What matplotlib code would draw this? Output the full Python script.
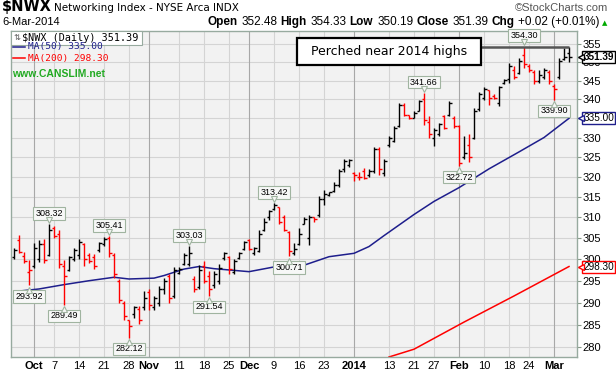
import numpy as np
import pandas as pd
import matplotlib
matplotlib.use('Agg')
import matplotlib.pyplot as plt
from matplotlib.ticker import FixedLocator, NullLocator, FuncFormatter
from matplotlib.transforms import offset_copy
from matplotlib.patches import Rectangle
from matplotlib.lines import Line2D

W, H = 616, 372

###########################
# Data
###########################

holidays = ['2013-11-28', '2013-12-25', '2014-01-01', '2014-01-20', '2014-02-17']
dates = pd.bdate_range('2013-09-25', '2014-03-06')
dates = dates[~dates.isin(pd.to_datetime(holidays))]

# daily OHLC, Sep 25 2013 .. Mar 6 2014 (one block per month)
opens = [
    300.5, 304.5, 300.8, 297.0,                                   # Sep
    298.5, 300.0, 303.5, 301.0, 307.5, 306.0, 298.5, 297.5, 300.0, 301.0, 303.5, 301.0,
    300.5, 302.2, 303.5, 305.0, 301.0, 295.0, 290.0, 286.0, 287.5, 288.5, 289.0,  # Oct
    292.5, 289.0, 290.0, 293.0, 296.0, 291.5, 296.8, 299.0, 299.0, 295.5, 293.5, 298.5,
    296.0, 294.0, 295.0, 300.2, 300.5, 297.0, 300.3, 302.5,       # Nov
    304.5, 301.5, 302.0, 307.0, 310.0, 312.0, 312.5, 310.0, 306.5, 301.5, 303.5, 308.5,
    305.0, 310.0, 310.5, 314.5, 315.5, 316.5, 318.0, 322.0, 323.0,  # Dec
    321.0, 320.0, 321.5, 320.5, 321.5, 327.0, 321.0, 328.0, 329.0, 333.0, 338.5, 335.8,
    335.2, 337.0, 340.0, 334.0, 330.0, 331.0, 335.5, 336.0, 335.0,  # Jan
    333.0, 325.0, 328.0, 330.0, 337.5, 340.5, 342.5, 341.0, 339.0, 344.3, 345.5, 348.0,
    347.0, 352.0, 349.0, 347.5, 345.0, 346.0, 347.5,              # Feb
    343.5, 346.0, 351.0, 352.48,                                  # Mar
]
highs = [
    302.6, 305.8, 301.8, 299.9,
    303.9, 304.5, 304.7, 308.32, 308.0, 307.0, 299.8, 300.8, 302.6, 304.7, 303.9, 301.4,
    301.3, 304.2, 305.3, 305.41, 301.5, 295.5, 290.4, 286.1, 289.3, 289.3, 292.6,
    293.0, 291.5, 293.8, 295.7, 296.5, 298.1, 298.3, 301.4, 303.03, 296.0, 298.6, 299.5,
    297.2, 297.2, 298.8, 301.8, 300.7, 300.0, 301.8, 304.4,
    304.9, 302.9, 307.0, 309.8, 311.8, 313.42, 312.6, 310.6, 306.7, 303.9, 307.4, 310.2,
    310.6, 310.2, 315.3, 316.6, 316.3, 318.6, 322.0, 324.5, 324.5,
    321.3, 321.3, 322.2, 322.0, 327.5, 327.6, 324.5, 330.4, 332.9, 339.0, 339.0, 336.0,
    336.8, 339.9, 341.66, 335.5, 332.5, 333.8, 336.0, 339.5, 335.5,
    333.3, 330.4, 330.8, 337.7, 342.1, 343.4, 342.6, 341.5, 343.7, 345.5, 349.8, 348.9,
    351.2, 354.30, 349.5, 348.0, 348.0, 348.4, 348.0,
    344.1, 351.2, 354.0, 354.33,
]
lows = [
    300.0, 301.4, 299.1, 293.92,
    298.0, 299.4, 299.1, 300.7, 305.0, 298.0, 289.49, 297.3, 299.6, 300.0, 298.4, 299.1,
    297.8, 301.8, 303.2, 300.6, 295.7, 290.0, 286.0, 282.12, 286.6, 285.2, 288.4,
    288.4, 288.4, 289.2, 291.9, 290.0, 291.1, 296.5, 298.7, 298.4, 292.3, 293.0, 294.5,
    291.54, 293.4, 294.3, 299.9, 296.5, 296.5, 300.0, 302.2,
    302.2, 301.1, 301.6, 306.7, 309.4, 311.8, 308.3, 306.7, 300.71, 301.1, 303.4, 308.3,
    303.4, 309.0, 310.2, 313.0, 315.3, 316.1, 317.4, 321.2, 322.4,
    318.9, 319.3, 319.5, 320.0, 321.0, 320.5, 320.3, 327.5, 328.8, 332.8, 335.5, 334.7,
    335.0, 336.8, 333.3, 330.0, 327.9, 330.4, 332.1, 335.5, 332.5,
    322.72, 324.5, 323.8, 329.5, 336.8, 339.9, 338.6, 340.2, 338.3, 344.1, 344.4, 345.5,
    346.8, 348.4, 347.5, 344.1, 344.4, 345.6, 344.1,
    339.90, 345.6, 350.7, 350.19,
]
closes = [
    302.3, 301.8, 299.6, 297.5,
    302.6, 303.5, 299.8, 307.0, 305.5, 299.0, 296.0, 300.5, 302.3, 304.0, 300.0, 299.5,
    298.5, 303.8, 304.8, 301.5, 296.5, 290.5, 287.0, 284.8, 289.0, 286.0, 291.0,
    289.5, 291.0, 293.0, 295.0, 291.0, 297.5, 297.8, 301.0, 301.5, 293.0, 297.5, 295.0,
    293.0, 296.5, 298.0, 301.5, 297.8, 299.5, 301.5, 304.0,
    302.4, 302.7, 306.0, 309.0, 311.5, 313.0, 309.0, 307.0, 302.0, 302.5, 306.0, 309.5,
    310.0, 309.5, 314.5, 315.8, 316.1, 318.0, 321.5, 324.0, 324.3,
    320.5, 320.0, 319.8, 321.5, 327.0, 322.0, 324.0, 330.0, 332.5, 338.5, 336.0, 335.0,
    336.5, 339.5, 334.5, 331.0, 332.0, 333.5, 332.5, 339.0, 333.0,
    323.5, 326.0, 325.0, 337.0, 341.5, 342.8, 340.5, 340.4, 343.3, 345.2, 349.0, 346.0,
    350.5, 349.5, 348.0, 345.0, 346.5, 348.0, 345.0,
    342.8, 350.5, 351.37, 351.39,
]

# moving averages
ma50_dates = ['2013-09-25', '2013-10-02', '2013-10-09', '2013-10-16', '2013-10-23',
              '2013-10-28', '2013-11-04', '2013-11-06', '2013-11-12', '2013-11-15',
              '2013-11-20', '2013-11-25', '2013-12-02', '2013-12-09', '2013-12-17',
              '2013-12-24', '2014-01-02', '2014-01-07', '2014-01-10', '2014-01-21',
              '2014-01-27', '2014-02-03', '2014-02-11', '2014-02-20', '2014-02-27',
              '2014-03-06']
ma50_vals = [292.5, 293.1, 294.1, 295.0, 295.8, 295.4, 295.6, 296.2, 297.7, 298.3,
             297.8, 297.5, 297.1, 298.2, 298.6, 300.6, 301.4, 303.0, 305.6, 310.7,
             313.9, 317.3, 322.0, 326.3, 330.0, 335.0]
ma200_dates = ['2014-01-13', '2014-01-21', '2014-02-04', '2014-02-19', '2014-03-06']
ma200_vals = [277.9, 279.6, 285.6, 291.5, 298.3]

# labelled highs / lows
mark_dates = ['2013-09-30', '2013-10-04', '2013-10-09', '2013-10-22', '2013-10-28',
              '2013-11-13', '2013-11-19', '2013-12-09', '2013-12-12', '2014-01-23',
              '2014-02-03', '2014-02-21', '2014-03-03']
mark_vals = [293.92, 308.32, 289.49, 305.41, 282.12, 303.03, 291.54, 313.42, 300.71,
             341.66, 322.72, 354.30, 339.90]
mark_kind = ['low', 'high', 'low', 'high', 'low', 'high', 'low', 'high', 'low',
             'high', 'low', 'high', 'low']

tick_dates = ['2013-10-01', '2013-10-07', '2013-10-14', '2013-10-21', '2013-10-28',
              '2013-11-01', '2013-11-11', '2013-11-18', '2013-11-25', '2013-12-02',
              '2013-12-09', '2013-12-16', '2013-12-23', '2014-01-02', '2014-01-13',
              '2014-01-21', '2014-01-27', '2014-02-03', '2014-02-10', '2014-02-18',
              '2014-02-24', '2014-03-03']
tick_labels = ['Oct', '7', '14', '21', '28', 'Nov', '11', '18', '25', 'Dec', '9', '16',
               '23', '2014', '13', '21', '27', 'Feb', '10', '18', '24', 'Mar']
tick_month = [l.isalpha() or l == '2014' for l in tick_labels]

last_close = 351.39
ma50_last = 335.00
ma200_last = 298.30

###########################
# Plot
###########################

plt.rcParams['font.family'] = ['Liberation Sans', 'DejaVu Sans']


def fx(px):
    return px / W


def fy(py):
    return 1 - py / H


def xi(d):
    return dates.get_loc(pd.Timestamp(d))


fig = plt.figure(figsize=(W / 100, H / 100), dpi=100)
ax = fig.add_axes([fx(11), fy(357), 566 / W, 326 / H])
ax.set_facecolor('#f2f2f2')

x = np.arange(len(dates))
o, h, l, c = map(np.array, (opens, highs, lows, closes))
prev = np.r_[c[0] - 1, c[:-1]]
cols = np.where(c < prev, '#ff0000', '#000000')
ax.vlines(x, l, h, colors=cols, lw=1.0, zorder=3)
ax.hlines(o, x - 0.5, x, colors=cols, lw=1.0, zorder=3)
ax.hlines(c, x, x + 0.5, colors=cols, lw=1.0, zorder=3)

ax.plot([xi(d) for d in ma50_dates], ma50_vals, color='#1e1e8c', lw=1.1, zorder=2)
ax.plot([xi(d) for d in ma200_dates], ma200_vals, color='#ff0000', lw=1.1, zorder=2)

# axes
ax.set_yscale('log')
ax.set_ylim(277.9, 358.7)
ax.set_xlim(-0.6, 112.6)
yt = np.arange(280, 356, 5)
ax.yaxis.set_major_locator(FixedLocator(yt))
ax.yaxis.set_minor_locator(NullLocator())
# the 335 label sits under the MA(50) flag
ax.yaxis.set_major_formatter(FuncFormatter(lambda v, p: '' if round(v) == 335 else f'{v:.0f}'))
ax.yaxis.tick_right()
ax.tick_params(axis='y', length=3, pad=1, labelsize=8, color='#889988')

tpos = [xi(d) for d in tick_dates]
ax.set_xticks(tpos)
ax.set_xticklabels(tick_labels)
ax.tick_params(axis='x', length=0, pad=3, labelsize=8)
for lbl, m in zip(ax.get_xticklabels(), tick_month):
    lbl.set_fontweight('bold' if m else 'normal')

for v in yt:
    ax.axhline(v, color='#d4d4d4', lw=0.8, zorder=0)
for p, m in zip(tpos, tick_month):
    ax.axvline(p, color='#a8a8a8' if m else '#d4d4d4', lw=0.8, zorder=0)
for s in ax.spines.values():
    s.set_color('#97aa9f')
    s.set_linewidth(1.0)

# high / low labels
for d, v, k in zip(mark_dates, mark_vals, mark_kind):
    j = xi(d)
    sg = 1 if k == 'high' else -1
    ax.annotate(f'{v:.2f}', xy=(j, v), xytext=(0, sg * 8.0), textcoords='offset points',
                ha='center', va='center', fontsize=6.5, zorder=6,
                bbox=dict(boxstyle='square,pad=0.2', fc='#f7f8f7', ec='#a0b4a0', lw=0.8))
    tr = offset_copy(ax.transData, fig=fig, x=0, y=sg * 3.2, units='points')
    ax.plot(j, v, transform=tr, marker='v' if k == 'high' else '^', ms=4,
            mfc='#f7f8f7', mec='#a0b4a0', mew=0.8, zorder=7)

# value flags on the price axis
for v, ec, bold in [(last_close, '#000000', True), (ma50_last, '#1e1e8c', False),
                    (ma200_last, '#ff0000', False)]:
    ax.annotate(f'{v:.2f}', xy=(1, v), xycoords=('axes fraction', 'data'),
                xytext=(4.6, 0), textcoords='offset points', ha='left', va='center',
                fontsize=7.2, fontweight='bold' if bold else 'normal',
                annotation_clip=False, zorder=8,
                bbox=dict(boxstyle='square,pad=0.1', fc='white', ec=ec, lw=1.0))
    tr = offset_copy(ax.get_yaxis_transform(), fig=fig, x=2.6, y=0, units='points')
    ax.plot(1, v, transform=tr, marker='<', ms=5, mfc='white', mec=ec, mew=1.0,
            clip_on=False, zorder=9)

# "Perched near 2014 highs" note
fig.add_artist(Rectangle((fx(297), fy(65)), 184 / W, 27 / H, transform=fig.transFigure,
                         fc='white', ec='black', lw=1.6, zorder=10))
fig.text(fx(389), fy(52), 'Perched near 2014 highs', ha='center', va='center',
         fontsize=9, family='DejaVu Sans', zorder=11)
x_box = (481 - 14) / 5
ax.hlines(mark_vals[-2], x_box, x[-1], color='#555555', lw=1.8, zorder=5)

# in-chart legend
fig.add_artist(Rectangle((fx(11), fy(45)), 131 / W, 14 / H, transform=fig.transFigure,
                         fc='white', ec='#97aa9f', lw=0.8, zorder=10))
fig.text(fx(14), fy(38), '\u21c5', ha='left', va='center', fontsize=6,
         family='DejaVu Sans', color='#555555', zorder=11)
fig.text(fx(22), fy(38), f'$NWX (Daily) {last_close:.2f}', ha='left', va='center',
         fontsize=7.3, family='DejaVu Sans Mono', zorder=11)
fig.add_artist(Line2D([fx(13), fx(25)], [fy(47), fy(47)], color='#1e1e8c', lw=1.1,
                      transform=fig.transFigure, zorder=11))
fig.text(fx(28), fy(47), f'MA(50) {ma50_last:.2f}', ha='left', va='center',
         fontsize=6.8, family='DejaVu Sans Mono', color='#1e1e8c', zorder=11)
fig.add_artist(Line2D([fx(13), fx(25)], [fy(58), fy(58)], color='#ff0000', lw=1.1,
                      transform=fig.transFigure, zorder=11))
fig.text(fx(28), fy(58), f'MA(200) {ma200_last:.2f}', ha='left', va='center',
         fontsize=6.8, family='DejaVu Sans Mono', color='#ff0000', zorder=11)
fig.text(fx(12), fy(74), 'www.CANSLIM.net', ha='left', va='center', fontsize=7.5,
         fontweight='bold', color='#22aa22', zorder=11)

# header
fig.text(fx(2), fy(11.5), '$NWX', ha='left', va='baseline', fontsize=10.5,
         fontweight='bold', family='DejaVu Sans')
fig.text(fx(54), fy(11), 'Networking Index - NYSE Arca INDX', ha='left', va='baseline',
         fontsize=7.5, family='DejaVu Sans')
fig.text(fx(608), fy(11), '\u00a9StockCharts.com', ha='right', va='baseline',
         fontsize=8, color='#555555')
fig.text(fx(2), fy(25), '6-Mar-2014', ha='left', va='baseline', fontsize=8)

pieces = [('Open', True), ('352.48', False), ('High', True), ('354.33', False),
          ('Low', True), ('350.19', False), ('Close', True), ('351.39', False),
          ('Chg', True), ('+0.02 (+0.01%)', False)]
rend = fig.canvas.get_renderer()
xr = 600
for s, b in reversed(pieces):
    t = fig.text(fx(xr), fy(25), s, ha='right', va='baseline', fontsize=8.5,
                 fontweight='bold' if b else 'normal')
    xr -= t.get_window_extent(rend).width + (3 if b else 4)
fig.text(fx(602), fy(25), '\u25b2', ha='left', va='baseline', fontsize=5,
         family='DejaVu Sans', color='#00aa00')

fig.savefig('out.png', dpi=100)
